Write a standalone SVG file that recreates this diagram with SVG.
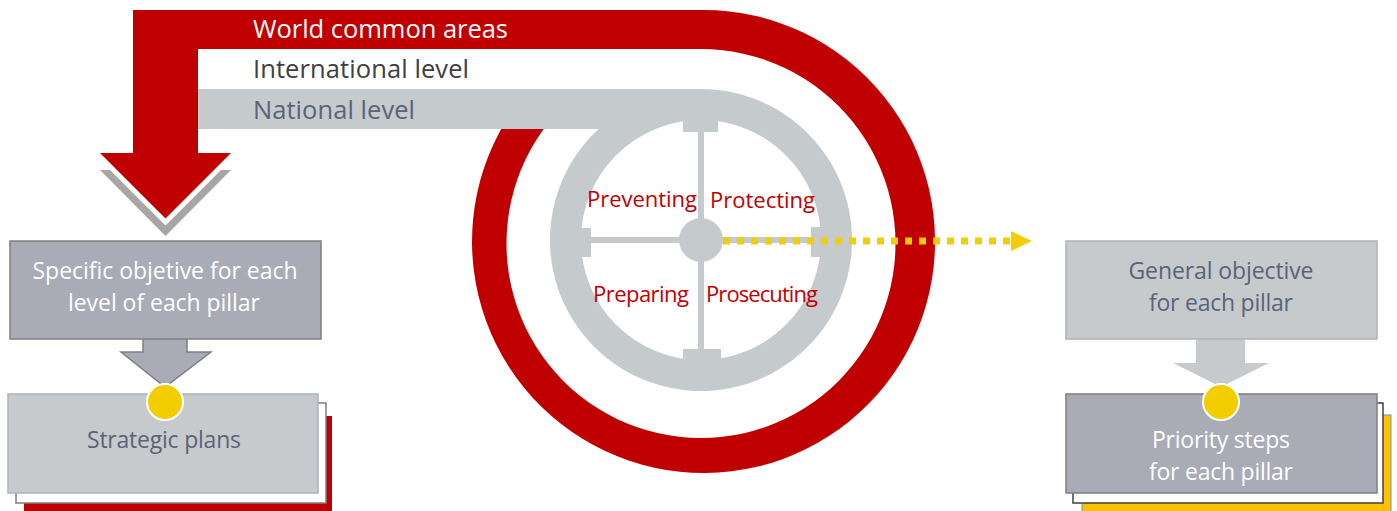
<svg xmlns="http://www.w3.org/2000/svg" width="1397" height="511" viewBox="0 0 1397 511">
<style>
text{font-family:"Open Sans","Liberation Sans",sans-serif;}
.lvl{font-size:25.5px;}
.pil{font-size:22px;fill:#c00000;}
.box{font-size:23px;text-anchor:middle;}
.wt{fill:#ffffff;}
.sl{fill:#5a6478;}
.dark{fill:#a9abb7;stroke:#7f7f7f;stroke-width:1.5;}
.light{fill:#c6cacd;stroke:#aeb3bb;stroke-width:1.5;}
.dot{fill:#f2cd00;stroke:#ffffff;stroke-width:2;}
</style>
<rect width="1397" height="511" fill="#ffffff"/>
<g id="spiral">
<polygon points="100,170 231,170 165.5,236" fill="#a6a6a6"/>
<polygon points="100,160 231,160 165.5,225.5" fill="#ffffff"/>
<path d="M133,10 H703.5 A231.5,231.5 0 1,1 520.3,100 L549.1,122 A194.5,194.5 0 1,0 701,49 H198 V153 H231 L165.5,218.5 L100,153 H133 Z" fill="#c00000"/>
<path d="M198,89 H701 A151,151 0 1,1 598.6,129 H198 Z M821,240 A120,120 0 1,0 581,240 A120,120 0 1,0 821,240 Z" fill="#c5cacd" fill-rule="evenodd"/>
<g fill="#c5cacd">
<rect x="683" y="118" width="35" height="14"/>
<rect x="683" y="349" width="38" height="14"/>
<rect x="578" y="228" width="13" height="29"/>
<rect x="811" y="227" width="13" height="30"/>
<rect x="698" y="118" width="6" height="244"/>
<rect x="578" y="237" width="246" height="6"/>
<circle cx="701" cy="240" r="22"/>
</g>
<text class="lvl wt" x="253" y="38" textLength="255">World common areas</text>
<text class="lvl" x="253" y="78" fill="#404040" textLength="216">International level</text>
<text class="lvl sl" x="253" y="119" textLength="162">National level</text>
<text class="pil" x="587" y="207" textLength="110">Preventing</text>
<text class="pil" x="710" y="208" textLength="105">Protecting</text>
<text class="pil" x="593" y="302" textLength="96">Preparing</text>
<text class="pil" x="706" y="302" textLength="112">Prosecuting</text>
</g>
<g id="connectors">
<line x1="723" y1="241" x2="1011" y2="241" stroke="#f2cd00" stroke-width="7" stroke-dasharray="7 7"/>
<polygon points="1011,231 1032,241 1011,251" fill="#f2cd00"/>
<path d="M143,339 V352 H121 L165,387 L211,352 H187 V339" class="dark"/>
<path d="M1196,339 V363 H1173 L1221,387 L1269,363 H1245 V339" fill="#c6cacd"/>
</g>
<g id="specific-objective">
<rect x="10" y="241" width="311" height="98" class="dark"/>
<text class="box wt" x="165" y="279" textLength="265">Specific objetive for each</text>
<text class="box wt" x="164" y="311" textLength="192">level of each pillar</text>
</g>
<g id="strategic-plans">
<rect x="24" y="416" width="308" height="110" fill="#c00000"/>
<rect x="16" y="403" width="310" height="100" fill="#ffffff" stroke="#7f7f7f" stroke-width="1.5"/>
<rect x="8" y="394" width="310" height="99" class="light"/>
<text class="box sl" x="164" y="448" textLength="154">Strategic plans</text>
<circle cx="165" cy="402" r="18" class="dot"/>
</g>
<g id="general-objective">
<rect x="1066" y="241" width="311" height="98" class="light"/>
<text class="box sl" x="1221" y="279" textLength="185">General objective</text>
<text class="box sl" x="1221" y="311" textLength="144">for each pillar</text>
</g>
<g id="priority-steps">
<rect x="1082" y="415" width="309" height="110" fill="#ffc000" stroke="#5b9bd5" stroke-width="1"/>
<rect x="1073" y="403" width="310" height="100" fill="#ffffff" stroke="#404040" stroke-width="1.5"/>
<rect x="1066" y="394" width="311" height="99" class="dark"/>
<text class="box wt" x="1221" y="448" textLength="138">Priority steps</text>
<text class="box wt" x="1221" y="480" textLength="144">for each pillar</text>
<circle cx="1221" cy="402" r="18" class="dot"/>
</g>
</svg>
